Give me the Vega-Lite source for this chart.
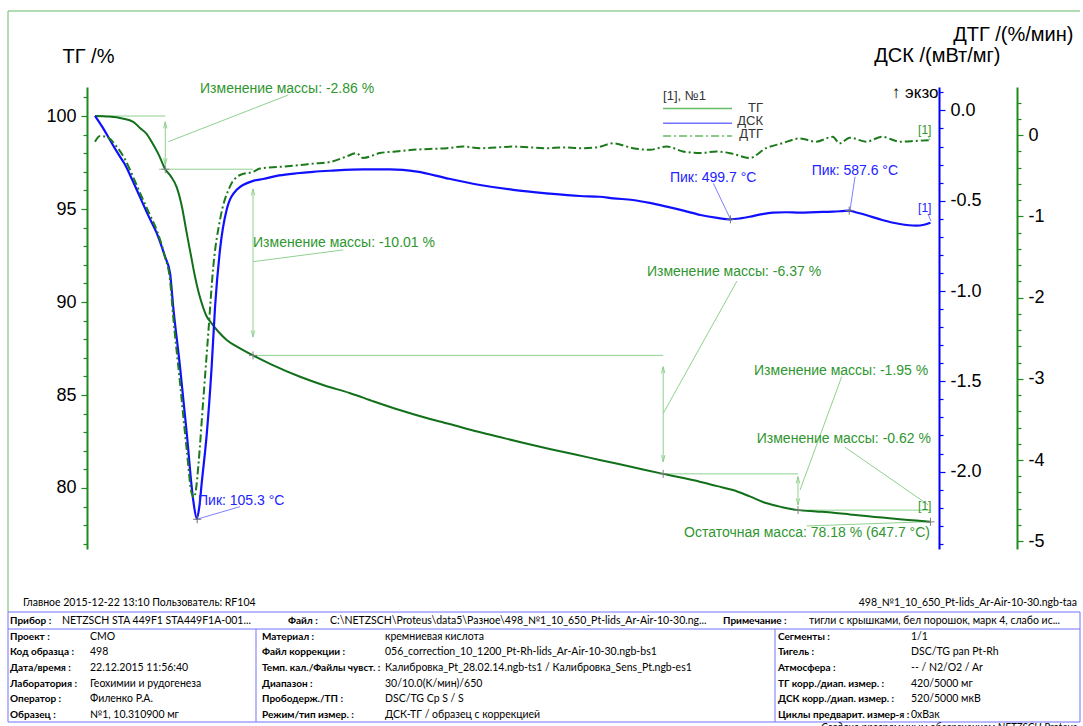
{
  "$schema": "https://vega.github.io/schema/vega-lite/v6.json",
  "width": 852,
  "height": 462,
  "autosize": {"type": "none"},
  "padding": {"left": 87, "top": 87, "right": 144, "bottom": 177},
  "background": "white",
  "config": {"view": {"stroke": null}, "font": "Liberation Sans"},
  "datasets": {
    "tg": [
      {"T":29.7,"v":100},{"T":40,"v":99.97},{"T":50,"v":99.87},{"T":58,"v":99.69},{"T":63,"v":99.35},{"T":68,"v":99.03},{"T":72.9,"v":98.45},{"T":77,"v":97.9},{"T":81.7,"v":97.14},{"T":85.7,"v":96.77},{"T":90.2,"v":96.16},{"T":93.9,"v":95.16},{"T":97.6,"v":93.69},{"T":100.7,"v":92.5},{"T":103.7,"v":91.36},{"T":106.3,"v":90.54},{"T":108.7,"v":89.93},{"T":111.8,"v":89.3},{"T":116,"v":88.85},{"T":121,"v":88.4},{"T":127.1,"v":87.96},{"T":136,"v":87.55},{"T":146.6,"v":87.13},{"T":160,"v":86.65},{"T":181.4,"v":85.98},{"T":200,"v":85.5},{"T":218,"v":85.11},{"T":236,"v":84.65},{"T":255,"v":84.19},{"T":273,"v":83.8},{"T":292,"v":83.44},{"T":310,"v":83.08},{"T":329,"v":82.74},{"T":347,"v":82.42},{"T":366,"v":82.1},{"T":385,"v":81.8},{"T":403,"v":81.51},{"T":427,"v":81.13},{"T":450,"v":80.76},{"T":464,"v":80.55},{"T":477,"v":80.34},{"T":490,"v":80.1},{"T":501.6,"v":79.89},{"T":514,"v":79.55},{"T":526,"v":79.19},{"T":538,"v":78.97},{"T":550,"v":78.81},{"T":563,"v":78.74},{"T":576,"v":78.67},{"T":588,"v":78.58},{"T":600,"v":78.49},{"T":612,"v":78.41},{"T":625,"v":78.32},{"T":637,"v":78.25},{"T":647.7,"v":78.18}
    ],
    "dsc": [
      {"T":29.7,"v":-0.03},{"T":35,"v":-0.09},{"T":40.8,"v":-0.164},{"T":46,"v":-0.23},{"T":51.9,"v":-0.3},{"T":57,"v":-0.38},{"T":63,"v":-0.48},{"T":69,"v":-0.58},{"T":75.4,"v":-0.68},{"T":81.5,"v":-0.81},{"T":85.2,"v":-0.9},{"T":87.6,"v":-1.09},{"T":92.6,"v":-1.42},{"T":97.6,"v":-1.79},{"T":102.4,"v":-2.16},{"T":105,"v":-2.26},{"T":106.8,"v":-2.2},{"T":108.7,"v":-2.06},{"T":112.4,"v":-1.79},{"T":116,"v":-1.42},{"T":118.5,"v":-1.09},{"T":122.2,"v":-0.77},{"T":127.1,"v":-0.55},{"T":134.5,"v":-0.44},{"T":146.8,"v":-0.39},{"T":154,"v":-0.38},{"T":166,"v":-0.36},{"T":179,"v":-0.348},{"T":191,"v":-0.34},{"T":203.6,"v":-0.334},{"T":228,"v":-0.326},{"T":248,"v":-0.326},{"T":268,"v":-0.339},{"T":290,"v":-0.376},{"T":314.5,"v":-0.413},{"T":339,"v":-0.44},{"T":363.6,"v":-0.459},{"T":388.5,"v":-0.474},{"T":403,"v":-0.478},{"T":413,"v":-0.487},{"T":427.6,"v":-0.496},{"T":440,"v":-0.512},{"T":452.6,"v":-0.533},{"T":465,"v":-0.555},{"T":477.5,"v":-0.579},{"T":490,"v":-0.595},{"T":499.7,"v":-0.603},{"T":507,"v":-0.598},{"T":514,"v":-0.589},{"T":522,"v":-0.576},{"T":531,"v":-0.566},{"T":541,"v":-0.564},{"T":551,"v":-0.566},{"T":563,"v":-0.563},{"T":575.4,"v":-0.561},{"T":582,"v":-0.558},{"T":587.6,"v":-0.555},{"T":593,"v":-0.565},{"T":600,"v":-0.579},{"T":612,"v":-0.607},{"T":625,"v":-0.629},{"T":637,"v":-0.638},{"T":643,"v":-0.633},{"T":647.7,"v":-0.622}
    ],
    "dtg": [
      {"T":29.7,"v":-0.08},{"T":33.4,"v":-0.01},{"T":38.3,"v":-0.02},{"T":45.7,"v":-0.14},{"T":52,"v":-0.3},{"T":57.8,"v":-0.51},{"T":63,"v":-0.71},{"T":70,"v":-0.97},{"T":75.4,"v":-1.17},{"T":81.5,"v":-1.5},{"T":85.2,"v":-1.78},{"T":87.6,"v":-2.24},{"T":92.6,"v":-3.05},{"T":97.6,"v":-3.88},{"T":101.2,"v":-4.41},{"T":103,"v":-4.46},{"T":104.5,"v":-4.35},{"T":106.1,"v":-4.08},{"T":109.8,"v":-3.26},{"T":113.5,"v":-2.44},{"T":117.2,"v":-1.62},{"T":122.2,"v":-1.04},{"T":129.6,"v":-0.63},{"T":137,"v":-0.49},{"T":146.8,"v":-0.45},{"T":151.8,"v":-0.41},{"T":166.5,"v":-0.39},{"T":180,"v":-0.37},{"T":191,"v":-0.35},{"T":203.6,"v":-0.33},{"T":216,"v":-0.26},{"T":223,"v":-0.22},{"T":228,"v":-0.28},{"T":240.5,"v":-0.22},{"T":252,"v":-0.2},{"T":265,"v":-0.18},{"T":277,"v":-0.17},{"T":290,"v":-0.16},{"T":302,"v":-0.14},{"T":314.5,"v":-0.16},{"T":327,"v":-0.15},{"T":339,"v":-0.14},{"T":351,"v":-0.15},{"T":363.6,"v":-0.16},{"T":376,"v":-0.15},{"T":388.5,"v":-0.16},{"T":401,"v":-0.15},{"T":413,"v":-0.1},{"T":427.6,"v":-0.16},{"T":440,"v":-0.18},{"T":452.6,"v":-0.14},{"T":464.6,"v":-0.2},{"T":477.5,"v":-0.22},{"T":489.6,"v":-0.2},{"T":501.6,"v":-0.23},{"T":514,"v":-0.28},{"T":526,"v":-0.16},{"T":538,"v":-0.1},{"T":551,"v":-0.04},{"T":563,"v":-0.08},{"T":575.4,"v":-0.02},{"T":580.5,"v":-0.1},{"T":588,"v":-0.03},{"T":600,"v":-0.08},{"T":612,"v":-0.02},{"T":625,"v":-0.08},{"T":637,"v":-0.07},{"T":647.7,"v":-0.06}
    ],
    "aLines": [
      {"T":29.7,"v":100,"T2":81.7,"v2":100},
      {"T":77,"v":97.14,"T2":146.6,"v2":97.14},
      {"T":146.6,"v":87.13,"T2":450,"v2":87.13},
      {"T":450,"v":80.76,"T2":549.7,"v2":80.76},
      {"T":549.7,"v":78.81,"T2":647.7,"v2":78.81},
      {"T":81.7,"v":99.69,"T2":81.7,"v2":97.37},
      {"T":146.6,"v":96.08,"T2":146.6,"v2":88.12},
      {"T":450,"v":86.52,"T2":450,"v2":81.41},
      {"T":549.7,"v":80.61,"T2":549.7,"v2":79.09},
      {"T":84.0,"v":98.62,"T2":172.7,"v2":101.13},
      {"T":146.8,"v":92.17,"T2":213.2,"v2":92.8},
      {"T":450.1,"v":84.02,"T2":504.6,"v2":91.13},
      {"T":551.2,"v":79.89,"T2":582,"v2":85.98},
      {"T":584.5,"v":82.19,"T2":646.1,"v2":79.09},
      {"T":556.1,"v":77.96,"T2":647.3,"v2":78.19}
    ],
    "headsUp": [{"T":81.7,"v":99.69},{"T":146.6,"v":96.08},{"T":450,"v":86.52},{"T":549.7,"v":80.61}],
    "headsDown": [{"T":81.7,"v":97.37},{"T":146.6,"v":88.12},{"T":450,"v":81.41},{"T":549.7,"v":79.09}],
    "crossTG": [{"T":81.7,"v":97.14},{"T":146.6,"v":87.13},{"T":450,"v":80.76},{"T":549.7,"v":78.81},{"T":647.7,"v":78.18}],
    "textL": [
      {"T":107.4,"v":101.26,"t":"Изменение массы: -2.86 %"},
      {"T":146.6,"v":92.98,"t":"Изменение массы: -10.01 %"},
      {"T":438,"v":91.4,"t":"Изменение массы: -6.37 %"},
      {"T":517.2,"v":86.08,"t":"Изменение массы: -1.95 %"},
      {"T":519.2,"v":82.42,"t":"Изменение массы: -0.62 %"}
    ],
    "textR": [{"T":647.3,"v":77.37,"t":"Остаточная масса: 78.18 % (647.7 °C)"}],
    "tagTG": [{"T":638.5,"v":78.82,"t":"[1]"}],
    "legLines": [
      {"T":449.9,"T2":500.9,"v":100.41,"s":"ТГ"},
      {"T":449.9,"T2":500.9,"v":99.61,"s":"ДСК"},
      {"T":449.9,"T2":500.9,"v":98.92,"s":"ДТГ"}
    ],
    "legTitle": [{"T":449.9,"v":100.86,"t":"[1], №1"}],
    "legLabels": [
      {"T":523.8,"v":100.22,"t":"ТГ"},
      {"T":523.8,"v":99.52,"t":"ДСК"},
      {"T":523.8,"v":98.82,"t":"ДТГ"}
    ],
    "exo": [{"T":653.6,"v":100.97,"t":"↑ экзо"}],
    "dscCross": [{"T":105.3,"v":-2.264},{"T":499.7,"v":-0.603},{"T":587.6,"v":-0.555}],
    "dscLeaders": [
      {"T":105.0,"v":-2.264,"T2":137,"v2":-2.194},
      {"T":487.1,"v":-0.404,"T2":499.4,"v2":-0.597},
      {"T":591.9,"v":-0.367,"T2":588.2,"v2":-0.552},
      {"T":645.9,"v":-0.574,"T2":648.1,"v2":-0.613}
    ],
    "dscText": [
      {"T":105.9,"v":-2.185,"t":"Пик: 105.3 °C"},
      {"T":455,"v":-0.395,"t":"Пик: 499.7 °C"},
      {"T":559.8,"v":-0.358,"t":"Пик: 587.6 °C"}
    ],
    "dscTag": [{"T":638.5,"v":-0.5626,"t":"[1]"}],
    "dtgTag": [{"T":638.5,"v":0.015,"t":"[1]"}],
    "dtgLeader": [{"T":645.9,"v":-0.01,"T2":647.5,"v2":-0.06}],
    "tblLines": [
      {"c":0,"c2":16,"r":0,"r2":0,"k":"f"},
      {"c":0,"c2":0,"r":0,"r2":2,"k":"f"},
      {"c":0,"c2":16,"r":2,"r2":2,"k":"t"},
      {"c":0,"c2":16,"r":4,"r2":4,"k":"t"},
      {"c":0,"c2":16,"r":11,"r2":11,"k":"t"},
      {"c":0,"c2":0,"r":2,"r2":11,"k":"t"},
      {"c":16,"c2":16,"r":2,"r2":11,"k":"t"},
      {"c":5,"c2":5,"r":4,"r2":11,"k":"t"},
      {"c":11,"c2":11,"r":4,"r2":11,"k":"t"}
    ],
    "tblBold": [
      {"c":1,"r":3,"t":"Прибор :"},
      {"c":7,"r":3,"t":"Файл :"},
      {"c":10,"r":3,"t":"Примечание :"},
      {"c":1,"r":5,"t":"Проект :"},
      {"c":1,"r":6,"t":"Код образца :"},
      {"c":1,"r":7,"t":"Дата/время :"},
      {"c":1,"r":8,"t":"Лаборатория :"},
      {"c":1,"r":9,"t":"Оператор :"},
      {"c":1,"r":10,"t":"Образец :"},
      {"c":6,"r":5,"t":"Материал :"},
      {"c":6,"r":6,"t":"Файл коррекции :"},
      {"c":6,"r":7,"t":"Темп. кал./Файлы чувст. :"},
      {"c":6,"r":8,"t":"Диапазон :"},
      {"c":6,"r":9,"t":"Прободерж./ТП :"},
      {"c":6,"r":10,"t":"Режим/тип измер. :"},
      {"c":12,"r":5,"t":"Сегменты :"},
      {"c":12,"r":6,"t":"Тигель :"},
      {"c":12,"r":7,"t":"Атмосфера :"},
      {"c":12,"r":8,"t":"ТГ корр./диап. измер. :"},
      {"c":12,"r":9,"t":"ДСК корр./диап. измер. :"},
      {"c":12,"r":10,"t":"Циклы предварит. измер-я :"}
    ],
    "tblNorm": [
      {"c":3,"r":3,"t":"NETZSCH STA 449F1 STA449F1A-001..."},
      {"c":8,"r":3,"t":"C:\\NETZSCH\\Proteus\\data5\\Разное\\498_№1_10_650_Pt-lids_Ar-Air-10-30.ng..."},
      {"c":13,"r":3,"t":"тигли с крышками, бел порошок, марк 4, слабо ис..."},
      {"c":4,"r":5,"t":"СМО"},
      {"c":4,"r":6,"t":"498"},
      {"c":4,"r":7,"t":"22.12.2015 11:56:40"},
      {"c":4,"r":8,"t":"Геохимии и рудогенеза"},
      {"c":4,"r":9,"t":"Филенко Р.А."},
      {"c":4,"r":10,"t":"№1, 10.310900 мг"},
      {"c":9,"r":5,"t":"кремниевая кислота"},
      {"c":9,"r":6,"t":"056_correction_10_1200_Pt-Rh-lids_Ar-Air-10-30.ngb-bs1"},
      {"c":9,"r":7,"t":"Калибровка_Pt_28.02.14.ngb-ts1 / Калибровка_Sens_Pt.ngb-es1"},
      {"c":9,"r":8,"t":"30/10.0(K/мин)/650"},
      {"c":9,"r":9,"t":"DSC/TG Cp S / S"},
      {"c":9,"r":10,"t":"ДСК-ТГ / образец с коррекцией"},
      {"c":14,"r":5,"t":"1/1"},
      {"c":14,"r":6,"t":"DSC/TG pan Pt-Rh"},
      {"c":14,"r":7,"t":"-- / N2/O2 / Ar"},
      {"c":14,"r":8,"t":"420/5000 мг"},
      {"c":14,"r":9,"t":"520/5000 мкВ"},
      {"c":14,"r":10,"t":"0xВак"}
    ],
    "footL": [{"c":2,"r":1,"t":"Главное   2015-12-22 13:10   Пользователь: RF104"}],
    "footR": [{"c":15,"r":1,"t":"498_№1_10_650_Pt-lids_Ar-Air-10-30.ngb-taa"}],
    "footI": [{"c":15,"r":12,"t":"Создано программным обеспечением NETZSCH Proteus"}]
  },
  "layer": [
    {
      "layer": [
        {
          "encoding": {
            "x": {"field": "T", "type": "quantitative", "scale": {"domain": [23.8, 654], "nice": false, "zero": false},
              "axis": {"orient": "bottom", "values": [40,60,80,100,120,140,160,180,200,220,240,260,280,300,320,340,360,380,400,420,440,460,480,500,520,540,560,580,600,620,640],
                "format": "d", "labelExpr": "datum.value % 100 === 0 ? datum.label : ''",
                "tickSize": {"condition": {"test": "datum.value % 100 === 0", "value": 6}, "value": 4},
                "tickColor": "black", "tickWidth": 1.2, "domainColor": "black", "domainWidth": 1.5,
                "labelColor": "black", "labelFontSize": 18, "labelPadding": 3, "labelFlush": false, "labelOverlap": false, "labelBound": false,
                "grid": false, "title": "Температура /°C", "titleFontSize": 20, "titleFontWeight": "normal", "titleColor": "black",
                "titleBaseline": "alphabetic", "titleY": 44}},
            "y": {"field": "v", "type": "quantitative", "scale": {"domain": [76.72, 101.56], "nice": false, "zero": false},
              "axis": {"orient": "left", "values": [77,78,79,80,81,82,83,84,85,86,87,88,89,90,91,92,93,94,95,96,97,98,99,100,101],
                "format": "d", "labelExpr": "datum.value % 5 === 0 ? datum.label : ''",
                "tickSize": {"condition": {"test": "datum.value % 5 === 0", "value": 6}, "value": 4},
                "tickColor": "#1f8a1f", "tickWidth": 1.2, "domainColor": "#1f8a1f", "domainWidth": 2,
                "labelColor": "black", "labelFontSize": 18, "labelPadding": 5, "labelFlush": false, "labelOverlap": false, "labelBound": false,
                "grid": false, "title": "ТГ /%", "titleAngle": 0, "titleAlign": "left", "titleBaseline": "alphabetic",
                "titleX": -25, "titleY": -25, "titleFontSize": 20, "titleFontWeight": "normal", "titleColor": "black"}}
          },
          "layer": [
            {"data": {"name": "aLines"}, "mark": {"type": "rule", "color": "#8fd18f", "strokeWidth": 1},
              "encoding": {"x2": {"field": "T2"}, "y2": {"field": "v2"}}},
            {"data": {"name": "headsUp"}, "mark": {"type": "point", "shape": "M-0.55,2.2L0,0L0.55,2.2", "filled": false, "stroke": "#8fd18f", "strokeWidth": 1, "size": 36, "opacity": 1}},
            {"data": {"name": "headsDown"}, "mark": {"type": "point", "shape": "M-0.55,-2.2L0,0L0.55,-2.2", "filled": false, "stroke": "#8fd18f", "strokeWidth": 1, "size": 36, "opacity": 1}},
            {"data": {"name": "tg"}, "mark": {"type": "line", "color": "#12701a", "strokeWidth": 2, "interpolate": "monotone"}},
            {"data": {"name": "crossTG"}, "mark": {"type": "point", "shape": "M-1,0L1,0M0,-1L0,1", "filled": false, "stroke": "#808080", "strokeWidth": 1, "size": 64, "opacity": 1}},
            {"data": {"name": "textL"}, "mark": {"type": "text", "align": "left", "baseline": "alphabetic", "fontSize": 14, "color": "#2f962f"},
              "encoding": {"text": {"field": "t"}}},
            {"data": {"name": "textR"}, "mark": {"type": "text", "align": "right", "baseline": "alphabetic", "fontSize": 14, "color": "#2f962f"},
              "encoding": {"text": {"field": "t"}}},
            {"data": {"name": "tagTG"}, "mark": {"type": "text", "align": "left", "baseline": "alphabetic", "fontSize": 12, "color": "#2f962f"},
              "encoding": {"text": {"field": "t"}}},
            {"data": {"name": "legLines"}, "mark": {"type": "rule", "strokeWidth": 1.5},
              "encoding": {"x2": {"field": "T2"},
                "color": {"field": "s", "type": "nominal", "scale": {"domain": ["ТГ", "ДСК", "ДТГ"], "range": ["#66bb66", "#7373ff", "#66bb66"]}, "legend": null},
                "strokeDash": {"field": "s", "type": "nominal", "scale": {"domain": ["ТГ", "ДСК", "ДТГ"], "range": [[1, 0], [1, 0], [8, 3, 2, 3]]}, "legend": null}}},
            {"data": {"name": "legTitle"}, "mark": {"type": "text", "align": "left", "baseline": "alphabetic", "fontSize": 13, "color": "#333333"},
              "encoding": {"text": {"field": "t"}}},
            {"data": {"name": "legLabels"}, "mark": {"type": "text", "align": "right", "baseline": "alphabetic", "fontSize": 13, "color": "#333333"},
              "encoding": {"text": {"field": "t"}}},
            {"data": {"name": "exo"}, "mark": {"type": "text", "align": "right", "baseline": "alphabetic", "fontSize": 17, "color": "black"},
              "encoding": {"text": {"field": "t"}}}
          ]
        },
        {
          "encoding": {
            "x": {"field": "T", "type": "quantitative", "scale": {"domain": [23.8, 654], "nice": false, "zero": false}, "axis": null},
            "y": {"field": "v", "type": "quantitative", "scale": {"domain": [-2.4286, 0.1296], "nice": false, "zero": false},
              "axis": {"orient": "right", "values": [-2.4,-2.3,-2.2,-2.1,-2.0,-1.9,-1.8,-1.7,-1.6,-1.5,-1.4,-1.3,-1.2,-1.1,-1.0,-0.9,-0.8,-0.7,-0.6,-0.5,-0.4,-0.3,-0.2,-0.1,0,0.1],
                "labelExpr": "abs(datum.value*2 - round(datum.value*2)) < 0.001 ? replace(format(datum.value, '.1f'), '\u2212', '-') : ''",
                "tickSize": {"condition": {"test": "abs(datum.value*2 - round(datum.value*2)) < 0.001", "value": 6}, "value": 4},
                "tickColor": "#0000ff", "tickWidth": 1.2, "domainColor": "#0000ff", "domainWidth": 2,
                "labelColor": "black", "labelFontSize": 18, "labelPadding": 5, "labelFlush": false, "labelOverlap": false, "labelBound": false,
                "grid": false, "title": "ДСК /(мВт/мг)", "titleAngle": 0, "titleAlign": "right", "titleBaseline": "alphabetic",
                "titleX": 61, "titleY": -26, "titleFontSize": 20, "titleFontWeight": "normal", "titleColor": "black"}}
          },
          "layer": [
            {"data": {"name": "dscLeaders"}, "mark": {"type": "rule", "color": "#7f7fff", "strokeWidth": 1},
              "encoding": {"x2": {"field": "T2"}, "y2": {"field": "v2"}}},
            {"data": {"name": "dsc"}, "mark": {"type": "line", "color": "#1010ff", "strokeWidth": 2.2, "interpolate": "monotone"}},
            {"data": {"name": "dscCross"}, "mark": {"type": "point", "shape": "M-1,0L1,0M0,-1L0,1", "filled": false, "stroke": "#707070", "strokeWidth": 1, "size": 64, "opacity": 1}},
            {"data": {"name": "dscText"}, "mark": {"type": "text", "align": "left", "baseline": "alphabetic", "fontSize": 14, "color": "#2323ff"},
              "encoding": {"text": {"field": "t"}}},
            {"data": {"name": "dscTag"}, "mark": {"type": "text", "align": "left", "baseline": "alphabetic", "fontSize": 12, "color": "#2323ff"},
              "encoding": {"text": {"field": "t"}}}
          ]
        },
        {
          "encoding": {
            "x": {"field": "T", "type": "quantitative", "scale": {"domain": [23.8, 654], "nice": false, "zero": false}, "axis": null},
            "y": {"field": "v", "type": "quantitative", "scale": {"domain": [-5.096, 0.5936], "nice": false, "zero": false},
              "axis": {"orient": "right", "offset": 78, "values": [-5,-4.8,-4.6,-4.4,-4.2,-4,-3.8,-3.6,-3.4,-3.2,-3,-2.8,-2.6,-2.4,-2.2,-2,-1.8,-1.6,-1.4,-1.2,-1,-0.8,-0.6,-0.4,-0.2,0,0.2,0.4],
                "labelExpr": "abs(datum.value - round(datum.value)) < 0.001 ? replace(format(round(datum.value), 'd'), '\u2212', '-') : ''",
                "tickSize": {"condition": {"test": "abs(datum.value - round(datum.value)) < 0.001", "value": 6}, "value": 4},
                "tickColor": "#1f8a1f", "tickWidth": 1.2, "domainColor": "#1f8a1f", "domainWidth": 2,
                "labelColor": "black", "labelFontSize": 18, "labelPadding": 5, "labelFlush": false, "labelOverlap": false, "labelBound": false,
                "grid": false, "title": "ДТГ /(%/мин)", "titleAngle": 0, "titleAlign": "right", "titleBaseline": "alphabetic",
                "titleX": 56, "titleY": -47, "titleFontSize": 20, "titleFontWeight": "normal", "titleColor": "black"}}
          },
          "layer": [
            {"data": {"name": "dtg"}, "mark": {"type": "line", "color": "#1b7a1b", "strokeWidth": 2, "strokeDash": [8, 3, 2, 3], "interpolate": "monotone"}},
            {"data": {"name": "dtgLeader"}, "mark": {"type": "rule", "color": "#8fd18f", "strokeWidth": 1},
              "encoding": {"x2": {"field": "T2"}, "y2": {"field": "v2"}}},
            {"data": {"name": "dtgTag"}, "mark": {"type": "text", "align": "left", "baseline": "alphabetic", "fontSize": 12, "color": "#2f962f"},
              "encoding": {"text": {"field": "t"}}}
          ]
        }
      ],
      "resolve": {"scale": {"y": "independent"}}
    },
    {
      "encoding": {
        "x": {"field": "c", "type": "quantitative", "axis": null,
          "scale": {"domain": [0,1,2,3,4,5,6,7,8,9,10,11,12,13,14,15,16], "range": [-79,-77,-64,-25,3,169,175,201,243,298,636,688,691,722,824,990,993], "nice": false, "zero": false}},
        "y": {"field": "r", "type": "quantitative", "axis": null,
          "scale": {"domain": [0,1,2,3,4,5,6,7,8,9,10,11,12], "range": [-76,516,525,534,542,549.5,565,581,596.5,612,627.5,635,641], "nice": false, "zero": false}}
      },
      "layer": [
        {"data": {"name": "tblLines"}, "mark": {"type": "rule", "strokeWidth": 1},
          "encoding": {"x2": {"field": "c2"}, "y2": {"field": "r2"},
            "color": {"field": "k", "type": "nominal", "scale": {"domain": ["f", "t"], "range": ["#a0a0a0", "#808080"]}, "legend": null}}},
        {"data": {"name": "tblBold"}, "mark": {"type": "text", "align": "left", "baseline": "middle", "font": "Lato", "fontSize": 10, "fontWeight": "bold", "color": "black"},
          "encoding": {"text": {"field": "t"}}},
        {"data": {"name": "tblNorm"}, "mark": {"type": "text", "align": "left", "baseline": "middle", "font": "Lato", "fontSize": 10.5, "color": "black"},
          "encoding": {"text": {"field": "t"}}},
        {"data": {"name": "footL"}, "mark": {"type": "text", "align": "left", "baseline": "middle", "font": "Lato", "fontSize": 10.5, "color": "black"},
          "encoding": {"text": {"field": "t"}}},
        {"data": {"name": "footR"}, "mark": {"type": "text", "align": "right", "baseline": "middle", "font": "Lato", "fontSize": 10.5, "color": "black"},
          "encoding": {"text": {"field": "t"}}},
        {"data": {"name": "footI"}, "mark": {"type": "text", "align": "right", "baseline": "middle", "font": "Lato", "fontSize": 10.5, "fontStyle": "italic", "color": "black"},
          "encoding": {"text": {"field": "t"}}}
      ]
    }
  ],
  "resolve": {"scale": {"x": "independent", "y": "independent"}}
}
